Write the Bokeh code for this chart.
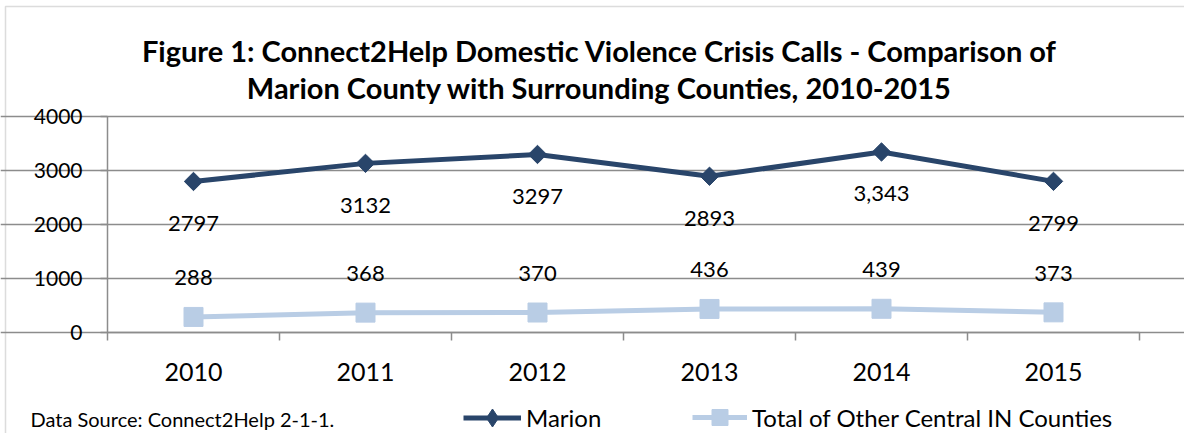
import math
from bokeh.plotting import figure
from bokeh.models import (ColumnDataSource, FixedTicker, LabelSet, Label, Legend,
                          LegendItem, BoxAnnotation, Range1d, BasicTickFormatter)
from bokeh.embed import file_html
from bokeh.resources import INLINE
from bokeh.core.properties import value

# ---- data ----
years = ["2010", "2011", "2012", "2013", "2014", "2015"]
marion = [2797, 3132, 3297, 2893, 3343, 2799]
marion_labels = ["2797", "3132", "3297", "2893", "3,343", "2799"]
others = [288, 368, 370, 436, 439, 373]
others_labels = ["288", "368", "370", "436", "439", "373"]
y_ticks = [0, 1000, 2000, 3000, 4000]
series_names = ["Marion", "Total of Other Central IN Counties"]
title_lines = ["Figure 1: Connect2Help Domestic Violence Crisis Calls - Comparison of",
               "Marion County with Surrounding Counties, 2010-2015"]
source_note = "Data Source: Connect2Help 2-1-1."

# ---- style / layout ----
FONT = "Lato"
NAVY = "#29456A"
LIGHT = "#B9CDE5"
GRID = "#8C8C8C"
W, H = 1184, 433
PLOT_L, PLOT_R, PLOT_T, PLOT_B = 107, 1139, 116, 332   # plot-area pixels
Y_MAX = 4000
n = len(years)

# the frame covers the whole canvas; axes are pinned inside it
px_per_x = (PLOT_R - PLOT_L) / n
px_per_y = (PLOT_B - PLOT_T) / Y_MAX
x_start = -0.5 - PLOT_L / px_per_x
x_end = n - 0.5 + (W - PLOT_R) / px_per_x
y_start = -(H - PLOT_B) / px_per_y
y_end = Y_MAX + PLOT_T / px_per_y

idx = list(range(n))
src = ColumnDataSource(dict(x=idx, marion=marion, others=others,
                            ml=marion_labels, ol=others_labels))

p = figure(width=W, height=H, output_backend="svg", toolbar_location=None,
           x_range=Range1d(x_start, x_end), y_range=Range1d(y_start, y_end),
           min_border=0)
p.min_border_left = p.min_border_right = p.min_border_top = p.min_border_bottom = 0
p.outline_line_color = None
p.background_fill_color = "white"
p.border_fill_color = "white"

# x axis: labels at category centres, ticks between categories
xa = p.xaxis[0]
xa.fixed_location = 0
xa.bounds = (-0.5, n - 0.5)
xa.ticker = FixedTicker(ticks=idx, minor_ticks=[i - 0.5 for i in range(n + 1)])
xa.major_label_overrides = {i: y for i, y in enumerate(years)}
xa.major_tick_line_color = None
xa.major_tick_out = 0
xa.major_tick_in = 0
xa.minor_tick_out = 8
xa.minor_tick_in = 0
xa.minor_tick_line_color = GRID
xa.minor_tick_line_width = 1.5
xa.axis_line_color = GRID
xa.axis_line_width = 1.5
xa.major_label_text_font = FONT
xa.major_label_text_font_size = "25px"
xa.major_label_text_color = "black"
xa.major_label_standoff = 22

ya = p.yaxis[0]
ya.fixed_location = -0.5
ya.bounds = (0, Y_MAX)
ya.ticker = FixedTicker(ticks=y_ticks)
ya.formatter = BasicTickFormatter(use_scientific=False)
ya.major_tick_out = 7
ya.major_tick_in = 0
ya.minor_tick_line_color = None
ya.major_tick_line_color = GRID
ya.major_tick_line_width = 1.5
ya.axis_line_color = GRID
ya.axis_line_width = 1.5
ya.major_label_text_font = FONT
ya.major_label_text_font_size = "21px"
ya.major_label_text_color = "black"
ya.major_label_standoff = 18

p.xgrid.visible = False
p.ygrid.grid_line_color = GRID
p.ygrid.grid_line_width = 1.5
p.ygrid.bounds = (-0.5, n - 0.5)

# ---- series ----
l1 = p.line("x", "marion", source=src, line_color=NAVY, line_width=5)
m1 = p.scatter("x", "marion", source=src, marker="square", angle=math.pi / 4,
               size=13, fill_color=NAVY, line_color=NAVY)
l2 = p.line("x", "others", source=src, line_color=LIGHT, line_width=5)
m2 = p.scatter("x", "others", source=src, marker="square", size=19,
               fill_color=LIGHT, line_color=LIGHT)
# legend-only marker (legend swatches are drawn unrotated)
m1_leg = p.scatter("x", "marion", source=src, marker="diamond", size=18,
                   fill_color=NAVY, line_color=NAVY, visible=False)

p.add_layout(LabelSet(x="x", y="marion", text="ml", source=src, y_offset=-42,
                      text_align="center", text_baseline="middle",
                      text_font=value(FONT), text_font_size=value("22px"),
                      text_color="black"))
p.add_layout(LabelSet(x="x", y="others", text="ol", source=src, y_offset=39,
                      text_align="center", text_baseline="middle",
                      text_font=value(FONT), text_font_size=value("22px"),
                      text_color="black"))

# ---- title ----
for txt, yy in zip(title_lines, [H - 50, H - 87]):
    p.add_layout(Label(x=599, y=yy, x_units="screen", y_units="screen", text=txt,
                       text_align="center", text_baseline="alphabetic",
                       text_font=FONT, text_font_style="bold",
                       text_font_size="29px", text_color="black"))

# ---- source note ----
p.add_layout(Label(x=30, y=H - 418, x_units="screen", y_units="screen", text=source_note,
                   text_align="left", text_baseline="alphabetic",
                   text_font=FONT, text_font_size="20px", text_color="black"))

# ---- outer chart border ----
p.add_layout(BoxAnnotation(left=5, right=W + 50, top=H - 6, bottom=-50,
                           left_units="screen", right_units="screen",
                           top_units="screen", bottom_units="screen",
                           fill_alpha=0, line_color=GRID, line_width=1.5))

# ---- legends ----
common = dict(orientation="horizontal",
              label_text_font=FONT, label_text_font_size="24px",
              label_text_color="black", padding=0, margin=0, spacing=0,
              border_line_color=None, background_fill_alpha=0, label_standoff=5,
              inactive_fill_alpha=0)
p.add_layout(Legend(items=[LegendItem(label=series_names[0], renderers=[l1, m1_leg])],
                    location=(463, H - 440), glyph_width=58, glyph_height=45,
                    label_height=45, **common))
p.add_layout(Legend(items=[LegendItem(label=series_names[1], renderers=[l2, m2])],
                    location=(692, H - 437), glyph_width=55, glyph_height=40,
                    label_height=40, **common))

open("out.html", "w").write(file_html(p, INLINE))
